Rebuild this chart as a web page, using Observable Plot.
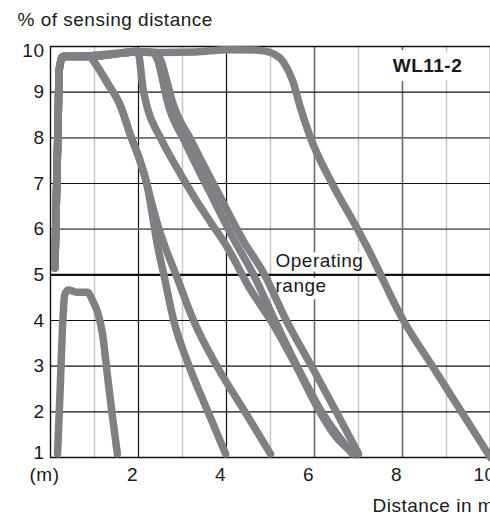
<!DOCTYPE html>
<html><head><meta charset="utf-8">
<script src="https://cdn.jsdelivr.net/npm/d3@7"></script>
<script src="https://cdn.jsdelivr.net/npm/@observablehq/plot@0.6"></script>
<style>
html,body{margin:0;padding:0;background:#fff;overflow:hidden;}
#chart svg{display:block;}
</style></head><body><div id="chart"></div>
<script>
// ---- data ----
const yTicksMid = [2,3,4,5,6,7,8,9];
const yTickBottom = [1];
const yTickTop = [10];
const xTicks = [0,2,4,6,8,10];
const xTickLabels = ["(m)","2","4","6","8","10"];
const xGridLight = [1,3,5,7,9];
const xGridBlack = [2,4];
const xGridGray = [6,8,10];
const yGridBlack = [2,3,4,7,9];
const yGridGray = [6,8];

const riserX = [0.1,0.13,0.17,0.2,0.28];
const riserY = [5.15,6.5,8.2,9.5,9.78];

const smallX = [0.16,0.22,0.28,0.32,0.4,0.6,0.84,0.95,1.07,1.18,1.3,1.41,1.52];
const smallY = [1.08,2.5,4.0,4.55,4.67,4.62,4.62,4.45,4.18,3.72,2.75,1.88,1.08];

const farX = [0.9,1.5,1.95,2.5,3.3,4.0,4.7,5.0,5.3,5.5,5.68,5.91,6.4,6.98,7.2,8.02,8.7,10];
const farY = [9.8,9.85,9.89,9.87,9.88,9.93,9.92,9.87,9.65,9.26,8.66,8.0,7.0,6.0,5.6,4.0,2.97,1.0];

const branchX = [0.9,0.98,1.3,1.59,1.82,2.05,2.2];
const branchY = [9.78,9.68,9.19,8.7,8.05,7.45,6.95];
const c1aX = [2.3,2.42,2.57,2.8,3.15,3.58,3.98];
const c1aY = [6.4,5.7,5.03,4.0,3.0,2.0,1.08];
const c1bX = [2.32,2.45,2.61,2.84,3.25,3.8,4.42,5.0];
const c1bY = [6.5,6.05,5.6,5.03,4.0,2.97,2.0,1.08];

const c2X = [0.9,1.5,1.98,2.11,2.2,2.5,2.91,3.3,3.64,4.02,4.5,5.05,5.6,6.12,6.45,6.9];
const c2Y = [9.78,9.84,9.9,9.04,8.66,8.0,7.28,6.65,6.15,5.6,4.75,3.93,2.97,2.0,1.5,1.08];

const c3aX = [0.9,1.5,1.98,2.3,2.44,2.55,2.65,3.04,3.6,4.18,4.6,5.1,5.62,6.17,6.86];
const c3bX = [0.9,1.5,1.98,2.36,2.51,2.64,2.76,3.2,3.78,4.38,4.85,5.36,5.95,6.5,7.0];
const c3Y  = [9.78,9.84,9.88,9.87,9.69,9.26,8.82,7.94,6.85,5.75,5.03,4.0,2.97,1.99,1.08];

const curves = [
  {name:"small", x: smallX, y: smallY},
  {name:"far", x: riserX.concat(farX), y: riserY.concat(farY)},
  {name:"c1a", x: riserX.concat(branchX, c1aX), y: riserY.concat(branchY, c1aY)},
  {name:"c1b", x: riserX.concat(branchX, c1bX), y: riserY.concat(branchY, c1bY)},
  {name:"c2", x: riserX.concat(c2X), y: riserY.concat(c2Y)},
  {name:"c3a", x: riserX.concat(c3aX), y: riserY.concat(c3Y)},
  {name:"c3b", x: riserX.concat(c3bX), y: riserY.concat(c3Y)}
];
const table = curves.flatMap(c => c.x.map((x, i) => ({curve: c.name, x, y: c.y[i]})));

const FONT = "'Liberation Sans', Arial, sans-serif";
const ink = "#1a1a1a";
const yLab = (data, dy) => Plot.text(data, {y: d => d, text: d => String(d), frameAnchor: "left",
  textAnchor: "end", dx: -6, dy, fontSize: 19, fill: ink});

const chart = Plot.plot({
  width: 490, height: 518,
  marginLeft: 50, marginRight: 0, marginTop: 46, marginBottom: 61,
  style: {fontFamily: FONT, background: "#fff", color: ink, letterSpacing: "0.5px"},
  x: {domain: [0, 10], axis: null},
  y: {domain: [1, 10], axis: null},
  marks: [
    Plot.ruleX(xGridLight, {stroke: "#c6c6c6", strokeWidth: 1.5}),
    Plot.ruleX(xGridBlack, {stroke: "#111", strokeWidth: 1.2}),
    Plot.ruleX(xGridGray, {stroke: "#6c6c6c", strokeWidth: 1.6}),
    Plot.ruleY(yGridBlack, {stroke: "#111", strokeWidth: 1.2}),
    Plot.ruleY(yGridGray, {stroke: "#6c6c6c", strokeWidth: 1.8}),
    // white backgrounds behind the labels
    Plot.text(["WL11-2"], {frameAnchor: "top-right", textAnchor: "middle", lineAnchor: "top", dx: -63, dy: 12,
      fontSize: 19, fontWeight: "bold", stroke: "white", strokeWidth: 18, fill: "white"}),
    Plot.text(["Operating\nrange"], {frameAnchor: "top-left", textAnchor: "start", lineAnchor: "top", dx: 225, dy: 202,
      fontSize: 19, lineHeight: 1.35, stroke: "white", strokeWidth: 9, fill: "white"}),
    Plot.ruleY([5], {stroke: "#111", strokeWidth: 2.2}),
    Plot.ruleY([1, 10], {stroke: "#111", strokeWidth: 1.4}),
    Plot.ruleX([0], {stroke: "#111", strokeWidth: 1.4}),
    Plot.line(table, {x: "x", y: "y", z: "curve", stroke: "#7f8084", strokeWidth: 7.5,
      curve: "monotone-x", strokeLinecap: "round", strokeLinejoin: "round"}),
    // labels
    Plot.text(["WL11-2"], {frameAnchor: "top-right", textAnchor: "middle", lineAnchor: "top", dx: -63, dy: 12,
      fontSize: 19, fontWeight: "bold", fill: ink}),
    Plot.text(["Operating\nrange"], {frameAnchor: "top-left", textAnchor: "start", lineAnchor: "top", dx: 225, dy: 202,
      fontSize: 19, lineHeight: 1.35, fill: ink}),
    yLab(yTicksMid, 0),
    yLab(yTickBottom, -5),
    yLab(yTickTop, 4),
    Plot.text(xTicks, {x: d => d, text: (d, i) => xTickLabels[i], frameAnchor: "bottom", lineAnchor: "top", dx: -6, dy: 10,
      fontSize: 19, fill: ink}),
    Plot.text(["% of sensing distance"], {frameAnchor: "top-left", textAnchor: "start", lineAnchor: "top", dx: -33, dy: -34,
      fontSize: 19, fill: ink}),
    Plot.text(["Distance in m"], {frameAnchor: "bottom-right", textAnchor: "start", lineAnchor: "top", dx: -118, dy: 41,
      fontSize: 19, fill: ink})
  ]
});
document.getElementById("chart").appendChild(chart);
</script></body></html>
